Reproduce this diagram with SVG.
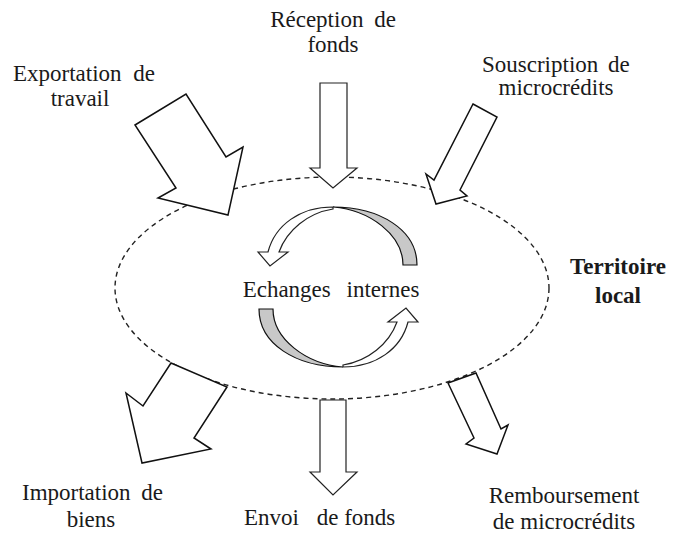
<svg xmlns="http://www.w3.org/2000/svg" width="674" height="535" viewBox="0 0 674 535">
<style>
.lbl{font-family:"Liberation Serif","Times New Roman",serif;font-size:23px;fill:#1a1a1a}
.bold{font-weight:bold}
.arrow{fill:#fff;stroke:#111;stroke-width:1.5;stroke-linejoin:miter}
.thin{fill:#fff;stroke:#222;stroke-width:1.2}
.gray{fill:#c8c8c8;stroke:#111;stroke-width:1.2}
.terr{fill:none;stroke:#222;stroke-width:1.4;stroke-dasharray:5 4}
</style>
<rect width="674" height="535" fill="#fff"/>
<g id="territoire">
<ellipse class="terr" cx="332" cy="288" rx="217" ry="111"/>
<text class="lbl bold" x="618" y="274" text-anchor="middle">Territoire</text>
<text class="lbl bold" x="618" y="303" text-anchor="middle">local</text>
</g>
<g id="connectors">
<polygon id="a-export" class="arrow" points="135,125 186,94 226,157 243,147 228,215 158,198 176,188"/>
<polygon id="a-reception" class="thin" points="320,83 347,83 347,168 357,168 333,188 310,168 320,168"/>
<polygon id="a-souscription" class="arrow" points="473,104 497,117 460,190 467,196 436,204 426,174 434,180"/>
<polygon id="a-import" class="arrow" points="171,363 143,406 126,393 142,463 211,449 194,438 227,387"/>
<polygon id="a-envoi" class="thin" points="320,400 346,400 346,472 357,472 333,495 310,472 320,472"/>
<polygon id="a-rembours" class="arrow" points="448,383 474,438 466,444 497,454 508,425 501,429 476,373"/>
<g id="cycle-top">
<path class="gray" d="M417,265 C417,230 380,207 333,207 C370,210 403,235 403,265 Z"/>
<path class="thin" d="M333,207 C300,207 275,225 268,252 L258,252 L270,266 L288,252 L279,252 C287,230 308,213 333,209 Z"/>
</g>
<g id="cycle-bottom" transform="rotate(180 338 287)">
<path class="gray" d="M417,265 C417,230 380,207 333,207 C370,210 403,235 403,265 Z"/>
<path class="thin" d="M333,207 C300,207 275,225 268,252 L258,252 L270,266 L288,252 L279,252 C287,230 308,213 333,209 Z"/>
</g>
</g>
<g id="n-reception"><text class="lbl" x="333" y="27" text-anchor="middle" word-spacing="5">Réception de</text><text class="lbl" x="333" y="52" text-anchor="middle">fonds</text></g>
<g id="n-export"><text class="lbl" x="13" y="81" word-spacing="6">Exportation de</text><text class="lbl" x="80" y="106" text-anchor="middle">travail</text></g>
<g id="n-souscription"><text class="lbl" x="482" y="72" word-spacing="4">Souscription de</text><text class="lbl" x="556" y="95" text-anchor="middle">microcrédits</text></g>
<g id="n-echanges"><text class="lbl" x="331" y="297" text-anchor="middle" word-spacing="10">Echanges internes</text></g>
<g id="n-import"><text class="lbl" x="22" y="500" word-spacing="5">Importation de</text><text class="lbl" x="91" y="527" text-anchor="middle">biens</text></g>
<g id="n-envoi"><text class="lbl" x="244" y="525"><tspan word-spacing="12">Envoi </tspan>de fonds</text></g>
<g id="n-rembours"><text class="lbl" x="564" y="503" text-anchor="middle">Remboursement</text><text class="lbl" x="564" y="529" text-anchor="middle">de microcrédits</text></g>
</svg>
